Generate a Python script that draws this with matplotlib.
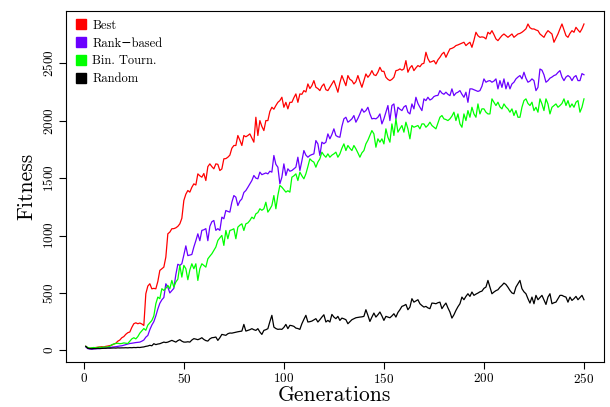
import numpy as np
import matplotlib
matplotlib.use("Agg")
import matplotlib.pyplot as plt
from matplotlib.lines import Line2D

plt.rcParams['font.family'] = ['cmr10', 'DejaVu Serif']
plt.rcParams['mathtext.fontset'] = 'cm'
plt.rcParams['axes.formatter.use_mathtext'] = True

generations = np.arange(1, 251)

best = [
    35, 20, 18, 20, 22, 25, 28, 30, 32, 30,
    35, 38, 42, 45, 55, 62, 80, 90, 110, 120,
    140, 154, 160, 200, 232, 240, 232, 238, 230, 217,
    493, 560, 580, 536, 540, 536, 600, 696, 710, 725,
    812, 1015, 1030, 1059, 1060, 1067, 1080, 1102, 1150, 1305,
    1360, 1392, 1378, 1420, 1450, 1440, 1537, 1520, 1508, 1540,
    1479, 1600, 1624, 1600, 1581, 1624, 1620, 1566, 1580, 1668,
    1670, 1682, 1700, 1760, 1784, 1784, 1871, 1830, 1784, 1871,
    1860, 1871, 1885, 1850, 1813, 2030, 1871, 2001, 1950, 1914,
    2001, 2001, 2080, 2117, 2100, 2132, 2160, 2175, 2204, 2117,
    2160, 2103, 2160, 2160, 2200, 2233, 2160, 2233, 2230, 2262,
    2250, 2320, 2280, 2305, 2349, 2291, 2280, 2262, 2300, 2320,
    2270, 2262, 2291, 2320, 2349, 2300, 2248, 2330, 2393, 2350,
    2305, 2393, 2360, 2349, 2320, 2340, 2393, 2340, 2291, 2350,
    2407, 2378, 2400, 2436, 2400, 2393, 2422, 2465, 2430, 2430,
    2378, 2360, 2349, 2360, 2378, 2436, 2440, 2451, 2440, 2451,
    2523, 2422, 2460, 2480, 2436, 2460, 2480, 2470, 2494, 2500,
    2596, 2540, 2509, 2515, 2523, 2494, 2530, 2552, 2580, 2596,
    2552, 2590, 2625, 2630, 2639, 2654, 2660, 2668, 2675, 2683,
    2654, 2670, 2683, 2639, 2700, 2770, 2740, 2726, 2730, 2726,
    2712, 2770, 2755, 2784, 2750, 2712, 2697, 2720, 2741, 2755,
    2740, 2726, 2740, 2755, 2726, 2740, 2755, 2760, 2770, 2784,
    2800, 2842, 2810, 2799, 2799, 2790, 2784, 2755, 2740, 2726,
    2760, 2784, 2770, 2755, 2683, 2720, 2755, 2800, 2842, 2790,
    2741, 2726, 2760, 2784, 2770, 2813, 2790, 2770, 2800, 2842,
]

rank_based = [
    30, 15, 12, 10, 12, 15, 14, 16, 18, 20,
    22, 22, 25, 28, 30, 32, 35, 38, 40, 45,
    50, 55, 60, 62, 65, 68, 70, 72, 80, 90,
    115, 130, 180, 220, 250, 300, 360, 410, 440, 460,
    580, 550, 500, 520, 540, 660, 750, 740, 755, 830,
    910, 825, 830, 835, 900, 955, 1015, 955, 1045, 1050,
    1060, 955, 1080, 1120, 1131, 1045, 1060, 1045, 1160, 1146,
    1218, 1210, 1204, 1290, 1348, 1334, 1261, 1300, 1319, 1375,
    1392, 1420, 1450, 1479, 1523, 1500, 1494, 1552, 1530, 1537,
    1545, 1537, 1560, 1552, 1697, 1620, 1595, 1450, 1508, 1624,
    1523, 1581, 1560, 1566, 1580, 1595, 1682, 1566, 1650, 1740,
    1700, 1682, 1697, 1705, 1711, 1827, 1798, 1697, 1813, 1800,
    1813, 1885, 1842, 1880, 1929, 1871, 1860, 1856, 1950, 2016,
    2030, 1987, 2000, 2016, 2045, 1987, 2020, 2059, 2103, 2074,
    2088, 2117, 2059, 2016, 2020, 2016, 2030, 2059, 1972, 2016,
    2074, 2132, 2001, 2132, 2146, 2016, 2117, 2100, 2088, 2120,
    2132, 2074, 2059, 2146, 2103, 2204, 2150, 2117, 2088, 2190,
    2175, 2204, 2180, 2190, 2210, 2218, 2220, 2262, 2240, 2230,
    2248, 2230, 2218, 2277, 2218, 2240, 2248, 2262, 2230, 2204,
    2248, 2160, 2277, 2277, 2270, 2262, 2255, 2262, 2300, 2364,
    2335, 2345, 2349, 2335, 2345, 2364, 2277, 2349, 2290, 2364,
    2277, 2335, 2277, 2320, 2335, 2364, 2380, 2393, 2364, 2422,
    2370, 2335, 2345, 2364, 2349, 2262, 2290, 2450, 2440, 2400,
    2335, 2349, 2370, 2380, 2393, 2400, 2420, 2436, 2380, 2349,
    2380, 2393, 2380, 2349, 2380, 2393, 2349, 2349, 2410, 2400,
]

bin_tourn = [
    35, 25, 20, 22, 25, 22, 25, 28, 25, 30,
    28, 30, 35, 50, 55, 60, 62, 58, 60, 65,
    62, 60, 80, 100, 110, 100, 120, 150, 170, 190,
    175, 220, 240, 260, 300, 406, 464, 450, 537, 522,
    540, 566, 537, 609, 551, 595, 620, 740, 638, 740,
    711, 615, 700, 754, 711, 754, 609, 711, 754, 740,
    725, 797, 820, 841, 870, 900, 957, 980, 1001, 914,
    1044, 972, 1044, 1050, 1059, 972, 1073, 1090, 1102, 1044,
    1102, 1110, 1131, 1160, 1146, 1189, 1200, 1233, 1220, 1233,
    1290, 1204, 1230, 1261, 1348, 1233, 1350, 1436, 1421, 1400,
    1378, 1390, 1378, 1508, 1520, 1537, 1479, 1552, 1520, 1494,
    1537, 1600, 1668, 1650, 1639, 1595, 1640, 1668, 1726, 1700,
    1682, 1711, 1682, 1700, 1711, 1726, 1682, 1711, 1760, 1798,
    1740, 1784, 1760, 1740, 1784, 1755, 1720, 1682, 1720, 1740,
    1798, 1830, 1871, 1914, 1885, 1769, 1842, 1813, 1842, 1798,
    1929, 1856, 1813, 1972, 1871, 2016, 1900, 1930, 1958, 1900,
    1987, 1929, 1842, 1958, 1943, 1950, 1958, 1929, 1972, 1972,
    1943, 1960, 1987, 1958, 1943, 1929, 1980, 2030, 2045, 2016,
    2010, 2001, 2016, 2040, 2074, 2001, 2059, 1972, 1943, 2059,
    2001, 2088, 2030, 2117, 2059, 2030, 2146, 2059, 2103, 2103,
    2074, 2059, 2059, 2190, 2160, 2132, 2161, 2120, 2103, 2146,
    2120, 2103, 2074, 2103, 2045, 2088, 2030, 2030, 2117, 2175,
    2190, 2150, 2132, 2161, 2088, 2117, 2074, 2190, 2146, 2088,
    2190, 2146, 2059, 2117, 2132, 2146, 2117, 2132, 2150, 2190,
    2132, 2175, 2117, 2146, 2117, 2161, 2175, 2074, 2117, 2190,
]

random_sel = [
    35, 18, 15, 14, 16, 15, 18, 16, 17, 18,
    18, 20, 19, 20, 21, 20, 22, 21, 22, 22,
    23, 22, 24, 23, 25, 24, 26, 25, 28, 30,
    35, 38, 44, 40, 58, 50, 55, 58, 65, 72,
    68, 72, 80, 87, 80, 72, 85, 93, 80, 72,
    72, 75, 72, 90, 102, 98, 93, 100, 110, 95,
    85, 81, 100, 110, 112, 116, 87, 110, 139, 135,
    131, 145, 151, 150, 154, 158, 162, 165, 168, 226,
    168, 174, 180, 189, 180, 174, 189, 160, 139, 174,
    180, 189, 250, 305, 203, 190, 183, 185, 183, 200,
    226, 189, 218, 215, 209, 194, 190, 183, 232, 270,
    305, 247, 250, 255, 265, 276, 247, 267, 290, 310,
    247, 261, 247, 313, 290, 276, 296, 261, 281, 275,
    267, 232, 250, 267, 275, 284, 287, 290, 292, 296,
    354, 305, 252, 290, 325, 290, 310, 334, 300, 261,
    296, 290, 284, 300, 319, 290, 330, 354, 383, 390,
    400, 354, 377, 450, 420, 430, 441, 406, 390, 377,
    383, 370, 363, 412, 410, 406, 415, 420, 363, 390,
    412, 370, 334, 281, 310, 348, 380, 406, 464, 441,
    470, 493, 470, 508, 479, 490, 499, 510, 516, 540,
    551, 609, 550, 493, 508, 520, 528, 550, 566, 586,
    574, 550, 522, 500, 493, 551, 580, 609, 537, 510,
    493, 450, 412, 464, 406, 479, 441, 460, 479, 440,
    400, 464, 493, 406, 415, 420, 450, 479, 479, 470,
    464, 420, 464, 435, 450, 470, 441, 460, 479, 441,
]

labels = ["Best", "Rank\u2212based", "Bin. Tourn.", "Random"]
colors = ["#FF0000", "#6A00FF", "#00FF00", "#000000"]
series = [best, rank_based, bin_tourn, random_sel]

fig = plt.figure(figsize=(6.1, 4.07), dpi=100)
ax = fig.add_axes([0.108, 0.110, 0.882, 0.863])

for vals, col in zip(series, colors):
    ax.plot(generations, vals, color=col, lw=0.9)

# R-style 4% padding
xr = generations.max() - generations.min()
ax.set_xlim(generations.min() - 0.04 * xr, generations.max() + 0.04 * xr)
allv = np.concatenate([np.array(s) for s in series])
yr = allv.max() - allv.min()
ax.set_ylim(allv.min() - 0.04 * yr, allv.max() + 0.04 * yr)

ax.set_xticks([0, 50, 100, 150, 200, 250])
ax.set_yticks([0, 500, 1000, 1500, 2000, 2500])
ax.tick_params(direction='out', length=5, width=0.8, labelsize=9.5, pad=2)
for lab in ax.get_yticklabels():
    lab.set_rotation(90)
    lab.set_va('center')
for sp in ax.spines.values():
    sp.set_linewidth(0.8)

ax.set_xlabel("Generations", fontsize=15.5, labelpad=0)
ax.set_ylabel("Fitness", fontsize=15.5, labelpad=4)

handles = [Line2D([], [], marker='s', ls='none', color=c, markersize=6.5) for c in colors]
ax.legend(handles, labels, loc='upper left', frameon=False, fontsize=9,
          handletextpad=0.4, labelspacing=0.45, borderaxespad=0.3, handlelength=1.0)

fig.savefig("out.png", dpi=100)
